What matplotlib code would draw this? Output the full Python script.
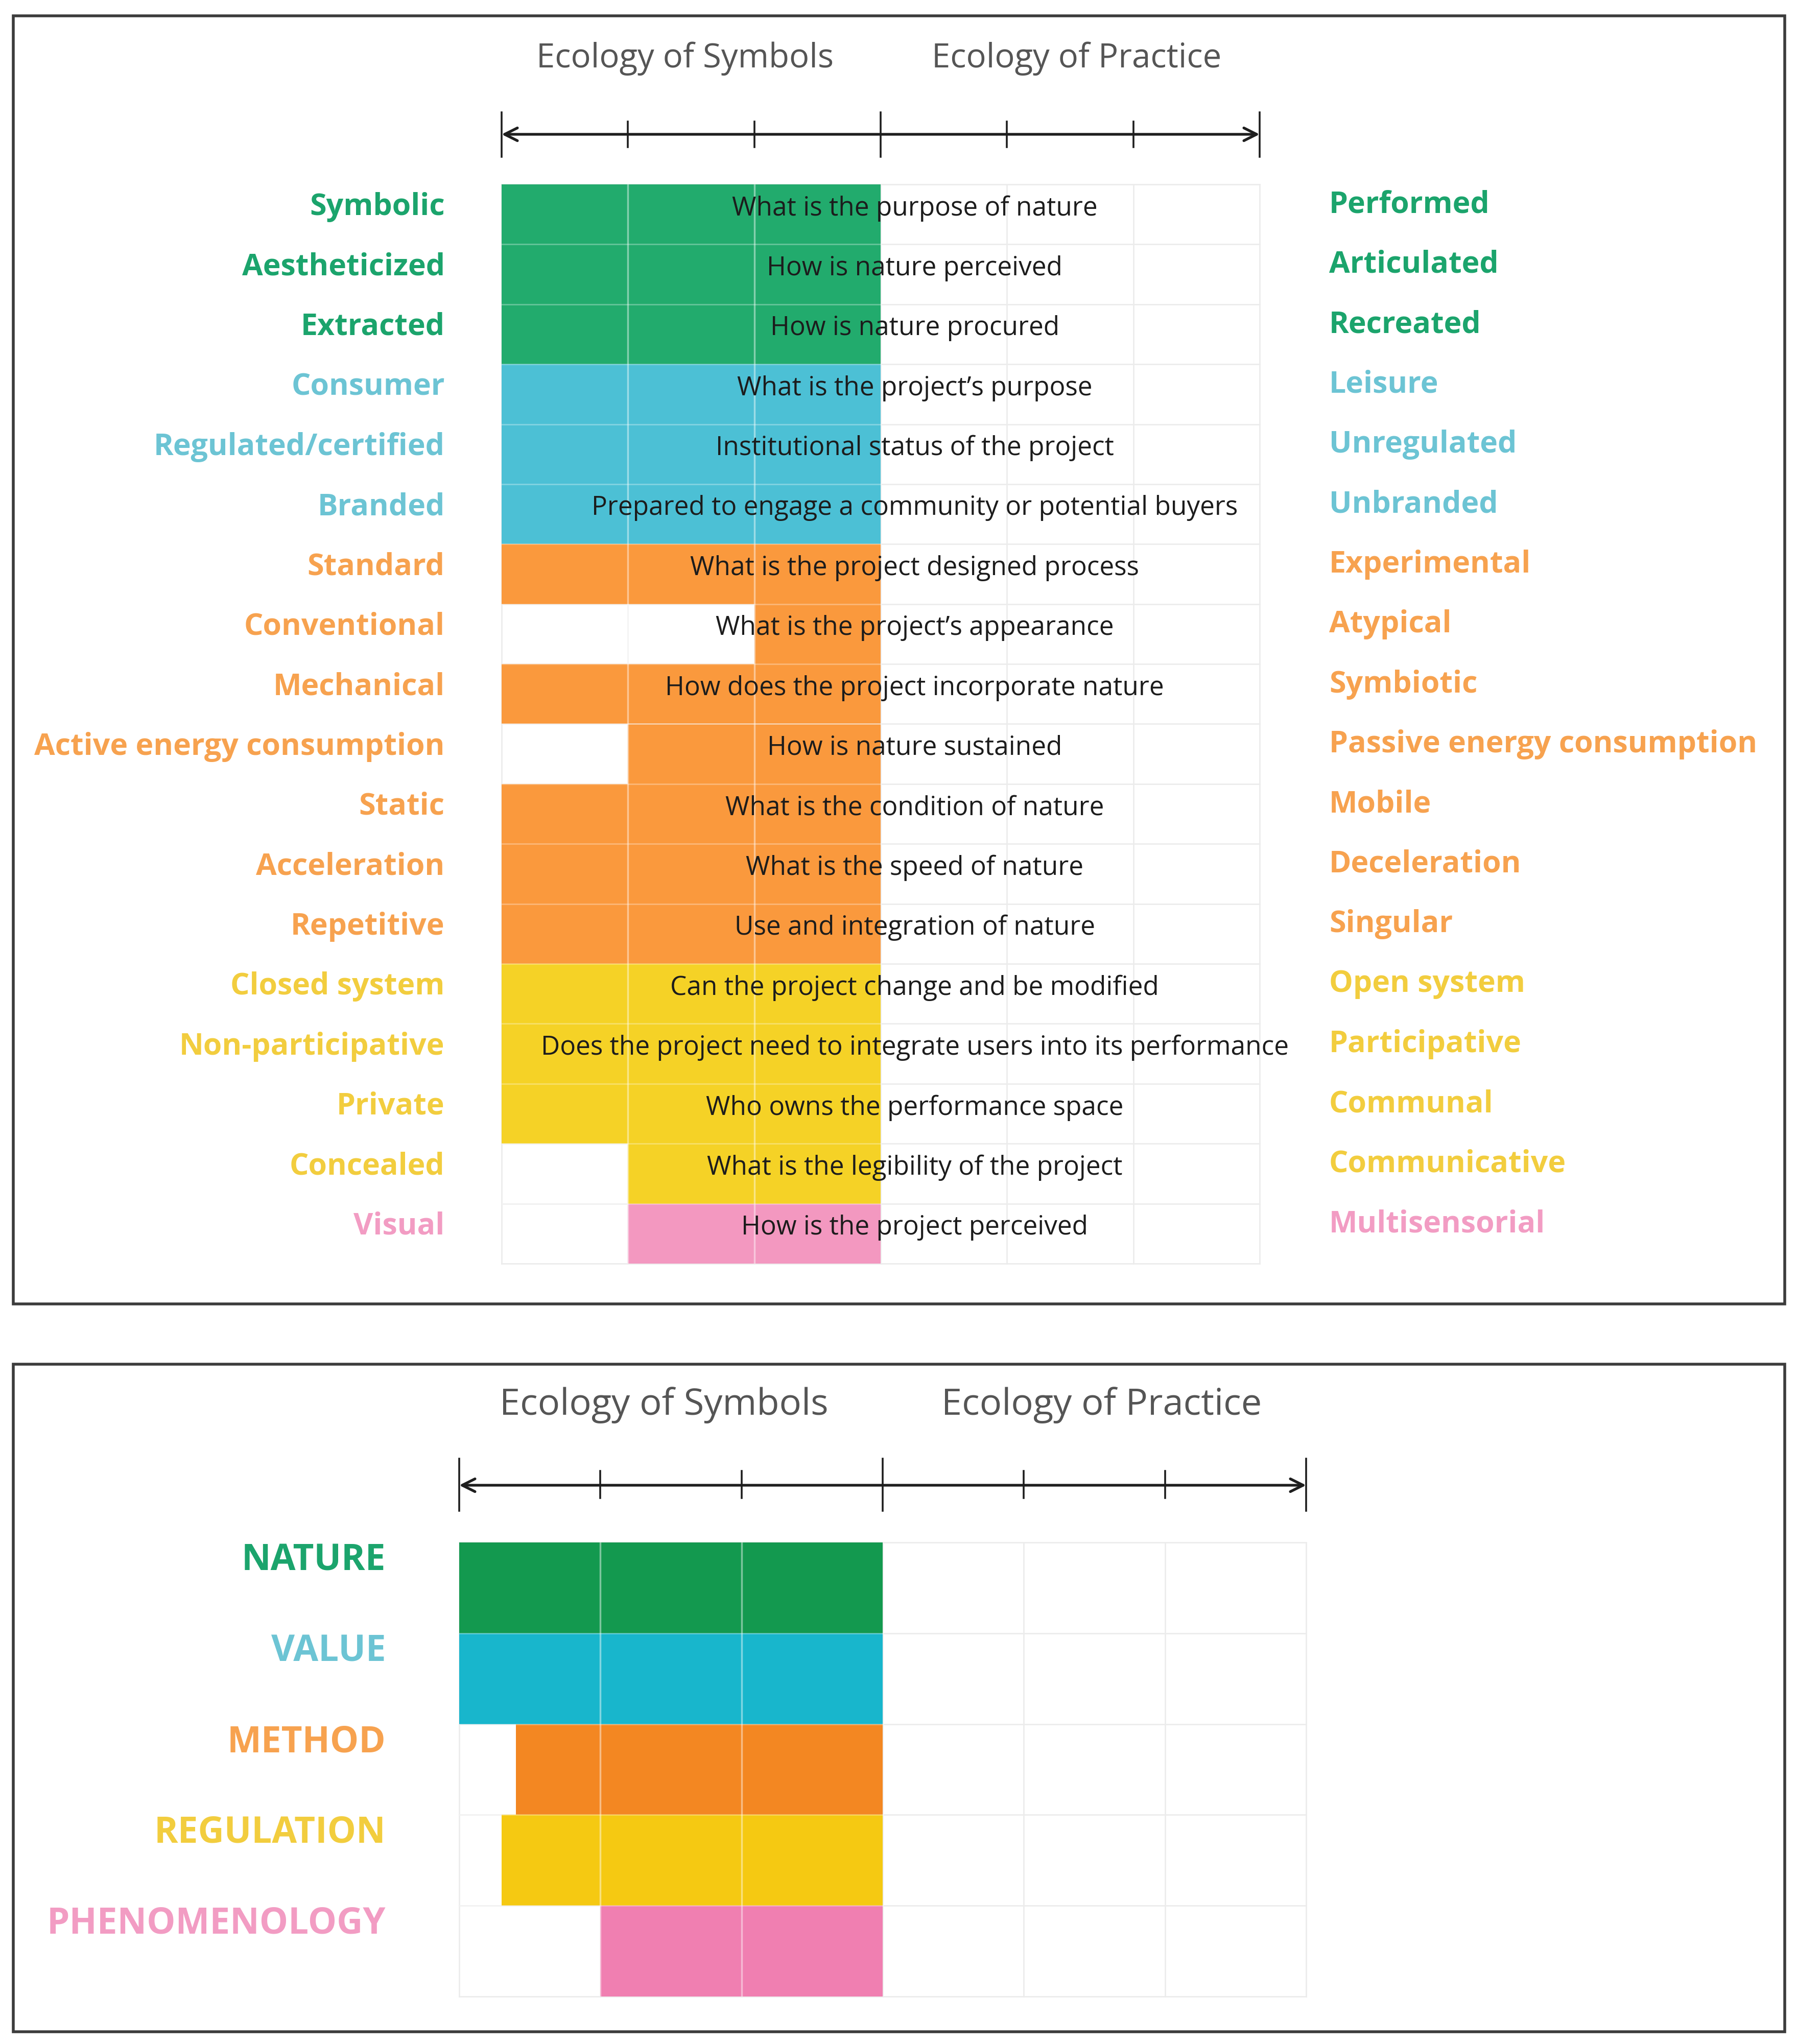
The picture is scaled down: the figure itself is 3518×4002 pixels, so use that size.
import matplotlib.pyplot as plt
from matplotlib.patches import Rectangle

# ---- data -------------------------------------------------------------
left_labels = [
    "Symbolic", "Aestheticized", "Extracted",
    "Consumer", "Regulated/certified", "Branded",
    "Standard", "Conventional", "Mechanical", "Active energy consumption",
    "Static", "Acceleration", "Repetitive",
    "Closed system", "Non-participative", "Private", "Concealed",
    "Visual",
]
right_labels = [
    "Performed", "Articulated", "Recreated",
    "Leisure", "Unregulated", "Unbranded",
    "Experimental", "Atypical", "Symbiotic", "Passive energy consumption",
    "Mobile", "Deceleration", "Singular",
    "Open system", "Participative", "Communal", "Communicative",
    "Multisensorial",
]
questions = [
    "What is the purpose of nature",
    "How is nature perceived",
    "How is nature procured",
    "What is the project\u2019s purpose",
    "Institutional status of the project",
    "Prepared to engage a community or potential buyers",
    "What is the project designed process",
    "What is the project\u2019s appearance",
    "How does the project incorporate nature",
    "How is nature sustained",
    "What is the condition of nature",
    "What is the speed of nature",
    "Use and integration of nature",
    "Can the project change and be modified",
    "Does the project need to integrate users into its performance",
    "Who owns the performance space",
    "What is the legibility of the project",
    "How is the project perceived",
]
# position on the -3 (symbols) .. +3 (practice) scale
row_scores = [-3, -3, -3, -3, -3, -3, -3, -1, -3, -2, -3, -3, -3, -3, -3, -3, -2, -2]
row_groups = (["nature"] * 3 + ["value"] * 3 + ["method"] * 7
              + ["regulation"] * 4 + ["phenomenology"])

summary_labels = ["NATURE", "VALUE", "METHOD", "REGULATION", "PHENOMENOLOGY"]
summary_groups = ["nature", "value", "method", "regulation", "phenomenology"]
summary_scores = [-3, -3, -2.6, -2.7, -2]

header_left = "Ecology of Symbols"
header_right = "Ecology of Practice"

# ---- style ------------------------------------------------------------
bar_colors = {"nature": "#22ab6d", "value": "#4cc0d5", "method": "#fa993d",
              "regulation": "#f5d226", "phenomenology": "#f398c0"}
label_colors = {"nature": "#1ba46c", "value": "#6cc4d4", "method": "#f7a24f",
                "regulation": "#f2cd3e", "phenomenology": "#f29cc3"}
summary_colors = {"nature": "#13994f", "value": "#18b6cc", "method": "#f38722",
                  "regulation": "#f5c912", "phenomenology": "#f07fb1"}

FONT = "Open Sans"
GRID = "#ececec"

W, H = 3518, 4002
fig = plt.figure(figsize=(W / 100, H / 100), dpi=100)


def px_axes(x0, y0, x1, y1):
    ax = fig.add_axes([x0 / W, 1 - y1 / H, (x1 - x0) / W, (y1 - y0) / H])
    ax.set_axis_off()
    return ax


def panel_box(x0, y0, x1, y1):
    fig.add_artist(Rectangle((x0 / W, 1 - y1 / H), (x1 - x0) / W, (y1 - y0) / H,
                             transform=fig.transFigure, fill=False,
                             lw=4, ec="#3c3c3c"))


def draw_scale(ax, n_rows, scores, colors, axis_y, big, small, header_y, header_size):
    ax.set_xlim(-3, 3)
    ax.set_ylim(n_rows, 0)
    # background grid
    for x in range(-3, 4):
        ax.plot([x, x], [0, n_rows], color=GRID, lw=2, zorder=0, clip_on=False)
    for y in range(n_rows + 1):
        ax.plot([-3, 3], [y, y], color=GRID, lw=2, zorder=0, clip_on=False)
    # bars from score to the centre
    ax.barh([i + 0.5 for i in range(n_rows)], [-s for s in scores], left=scores,
            height=1.0, color=colors, zorder=1)
    # faint white cell lines on top of bars
    for x in (-2, -1):
        ax.plot([x, x], [0, n_rows], color="white", lw=2.5, alpha=0.45, zorder=2)
    for y in range(1, n_rows):
        ax.plot([-3, 0], [y, y], color="white", lw=2, alpha=0.3, zorder=2)
    # scale arrow
    ax.annotate("", xy=(-3, axis_y), xytext=(3, axis_y), annotation_clip=False,
                arrowprops=dict(arrowstyle="<->", lw=3.8, color="#1e1e1e",
                                shrinkA=0, shrinkB=0, mutation_scale=45))
    for x in range(-3, 4):
        y0, y1 = big if x in (-3, 0, 3) else small
        ax.plot([x, x], [y0, y1], color="#1e1e1e", lw=2.6, clip_on=False)
    ax.text(-1.55, header_y, header_left, ha="center", va="center",
            fontsize=header_size, color="#555555", family=FONT)
    ax.text(1.55, header_y, header_right, ha="center", va="center",
            fontsize=header_size, color="#555555", family=FONT)


# ---- top panel: individual criteria ------------------------------------
panel_box(26, 31, 3494, 2553)
ax1 = px_axes(982, 361, 2466, 2474)
n = len(left_labels)
draw_scale(ax1, n, row_scores, [bar_colors[g] for g in row_groups],
           axis_y=-0.835, big=(-1.20, -0.46), small=(-1.05, -0.62),
           header_y=-2.10, header_size=47)
for i in range(n):
    c = label_colors[row_groups[i]]
    ax1.text(-3.45, i + 0.38, left_labels[i], ha="right", va="center",
             fontsize=42.5, fontweight="bold", color=c, family=FONT)
    ax1.text(3.55, i + 0.34, right_labels[i], ha="left", va="center",
             fontsize=42.5, fontweight="bold", color=c, family=FONT)
    ax1.text(0.27, i + 0.40, questions[i], ha="center", va="center",
             fontsize=37, fontweight="medium", color="#1c1c1c", family=FONT,
             zorder=3)

# ---- bottom panel: summary per dimension --------------------------------
panel_box(26, 2671, 3494, 3978)
ax2 = px_axes(899, 3020, 2557, 3909)
m = len(summary_labels)
draw_scale(ax2, m, summary_scores, [summary_colors[g] for g in summary_groups],
           axis_y=-0.63, big=(-0.92, -0.35), small=(-0.79, -0.49),
           header_y=-1.51, header_size=52)
for i in range(m):
    ax2.text(-3.52, i + 0.2, summary_labels[i], ha="right", va="center",
             fontsize=51, fontweight="bold",
             color=label_colors[summary_groups[i]], family=FONT)

fig.savefig("out.png", dpi=100, facecolor="white")
